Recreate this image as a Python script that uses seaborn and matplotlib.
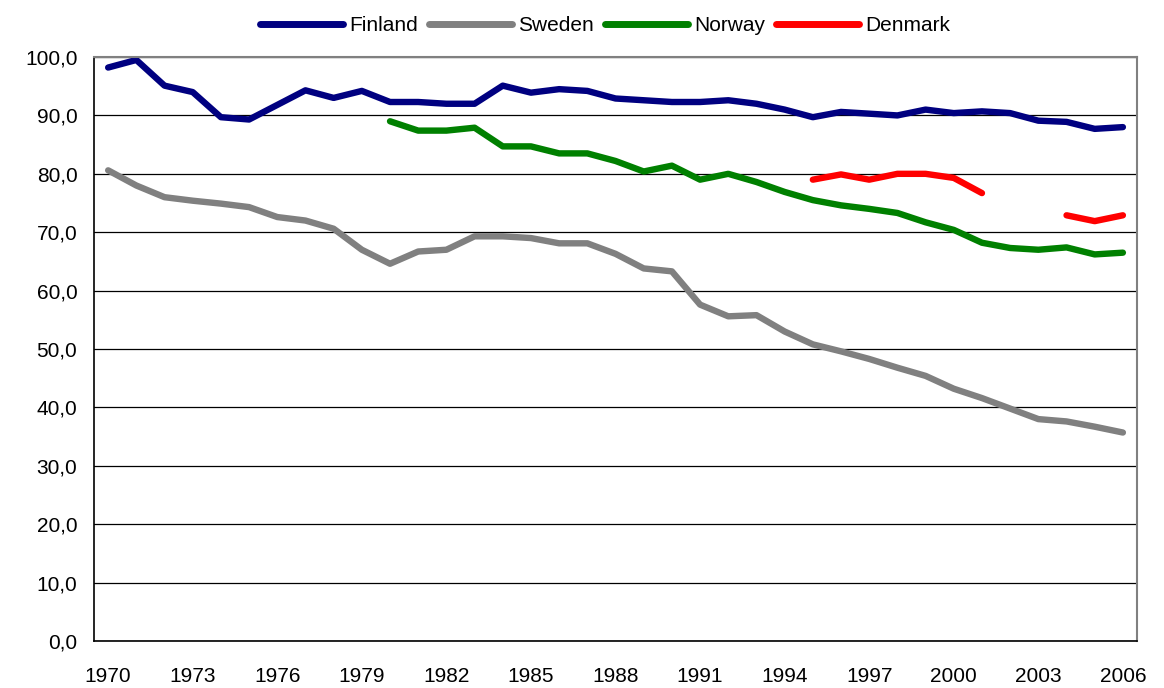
import numpy as np
import pandas as pd
import matplotlib
matplotlib.use("Agg")
import matplotlib.pyplot as plt
import seaborn as sns

# Data
years = list(range(1970, 2007))

finland = [98.2, 99.5, 95.1, 94.0, 89.7, 89.3, 91.8, 94.3, 93.0, 94.2,
           92.3, 92.3, 92.0, 92.0, 95.1, 93.9, 94.5, 94.2, 92.9, 92.6,
           92.3, 92.3, 92.6, 92.0, 91.0, 89.7, 90.6, 90.3, 90.0, 91.0,
           90.4, 90.7, 90.4, 89.1, 88.9, 87.7, 88.0]

sweden = [80.6, 78.0, 76.0, 75.4, 74.9, 74.3, 72.6, 72.0, 70.6, 67.0,
          64.6, 66.7, 67.0, 69.3, 69.3, 69.0, 68.1, 68.1, 66.3, 63.8,
          63.3, 57.6, 55.6, 55.8, 53.0, 50.8, 49.6, 48.3, 46.8, 45.4,
          43.2, 41.6, 39.8, 38.0, 37.6, 36.7, 35.7]

norway = [np.nan] * 10 + [
          89.0, 87.4, 87.4, 87.9, 84.7, 84.7, 83.5, 83.5, 82.2, 80.4,
          81.4, 79.0, 80.0, 78.6, 76.9, 75.5, 74.6, 74.0, 73.3, 71.7,
          70.4, 68.2, 67.3, 67.0, 67.4, 66.2, 66.5]

denmark = [np.nan] * 25 + [
           79.0, 79.9, 79.0, 80.0, 80.0, 79.3, 76.7, np.nan, np.nan,
           72.9, 71.9, 72.9]

series = {"Finland": finland, "Sweden": sweden, "Norway": norway, "Denmark": denmark}
colors = {"Finland": "#000080", "Sweden": "#808080", "Norway": "#008000", "Denmark": "#FF0000"}

sns.set_style("white")
plt.rcParams["font.family"] = ["Liberation Sans", "DejaVu Sans"]
plt.rcParams["text.color"] = "black"
plt.rcParams["xtick.color"] = "black"
plt.rcParams["ytick.color"] = "black"

fig = plt.figure(figsize=(11.64, 6.88), dpi=100)
ax = fig.add_axes([0.0808, 0.0683, 0.896, 0.8488])

for name, vals in series.items():
    df = pd.DataFrame({"year": years, "value": vals})
    # split into runs so gaps stay gaps
    run_id = df["value"].isna().cumsum()
    first = True
    for _, part in df.dropna().groupby(run_id[df["value"].notna()]):
        sns.lineplot(data=part, x="year", y="value", ax=ax, color=colors[name],
                     linewidth=4.6, label=name if first else None,
                     solid_capstyle="round", solid_joinstyle="round")
        first = False

ax.set_xlim(1969.5, 2006.5)
ax.set_ylim(0, 100)
ax.set_xlabel("")
ax.set_ylabel("")

yticks = np.arange(0, 101, 10)
ax.set_yticks(yticks)
ax.set_yticklabels([f"{v:.1f}".replace(".", ",") for v in yticks], fontsize=15)
ax.yaxis.grid(True, color="black", linewidth=0.9)
ax.set_axisbelow(True)

ax.set_xticks(years[::3])
ax.set_xticklabels([str(y) for y in years[::3]], fontsize=15)
ax.set_xticks(np.arange(1969.5, 2007, 1), minor=True)
ax.tick_params(axis="x", which="major", length=0, pad=19)
ax.tick_params(axis="x", which="minor", length=6, width=1, color="black", direction="out")
ax.tick_params(axis="y", which="major", length=6, width=1, color="black", direction="out", pad=6)

for side in ["left", "bottom"]:
    ax.spines[side].set_color("black")
    ax.spines[side].set_linewidth(1.2)
for side in ["top", "right"]:
    ax.spines[side].set_color("#808080")
    ax.spines[side].set_linewidth(1.5)

leg = ax.legend(loc="lower center", bbox_to_anchor=(0.49, 1.005), ncol=4, frameon=False,
                fontsize=15, handlelength=4.0, handletextpad=0.3, columnspacing=0.5)
for line in leg.get_lines():
    line.set_linewidth(5)

plt.savefig("out.png", dpi=100)
